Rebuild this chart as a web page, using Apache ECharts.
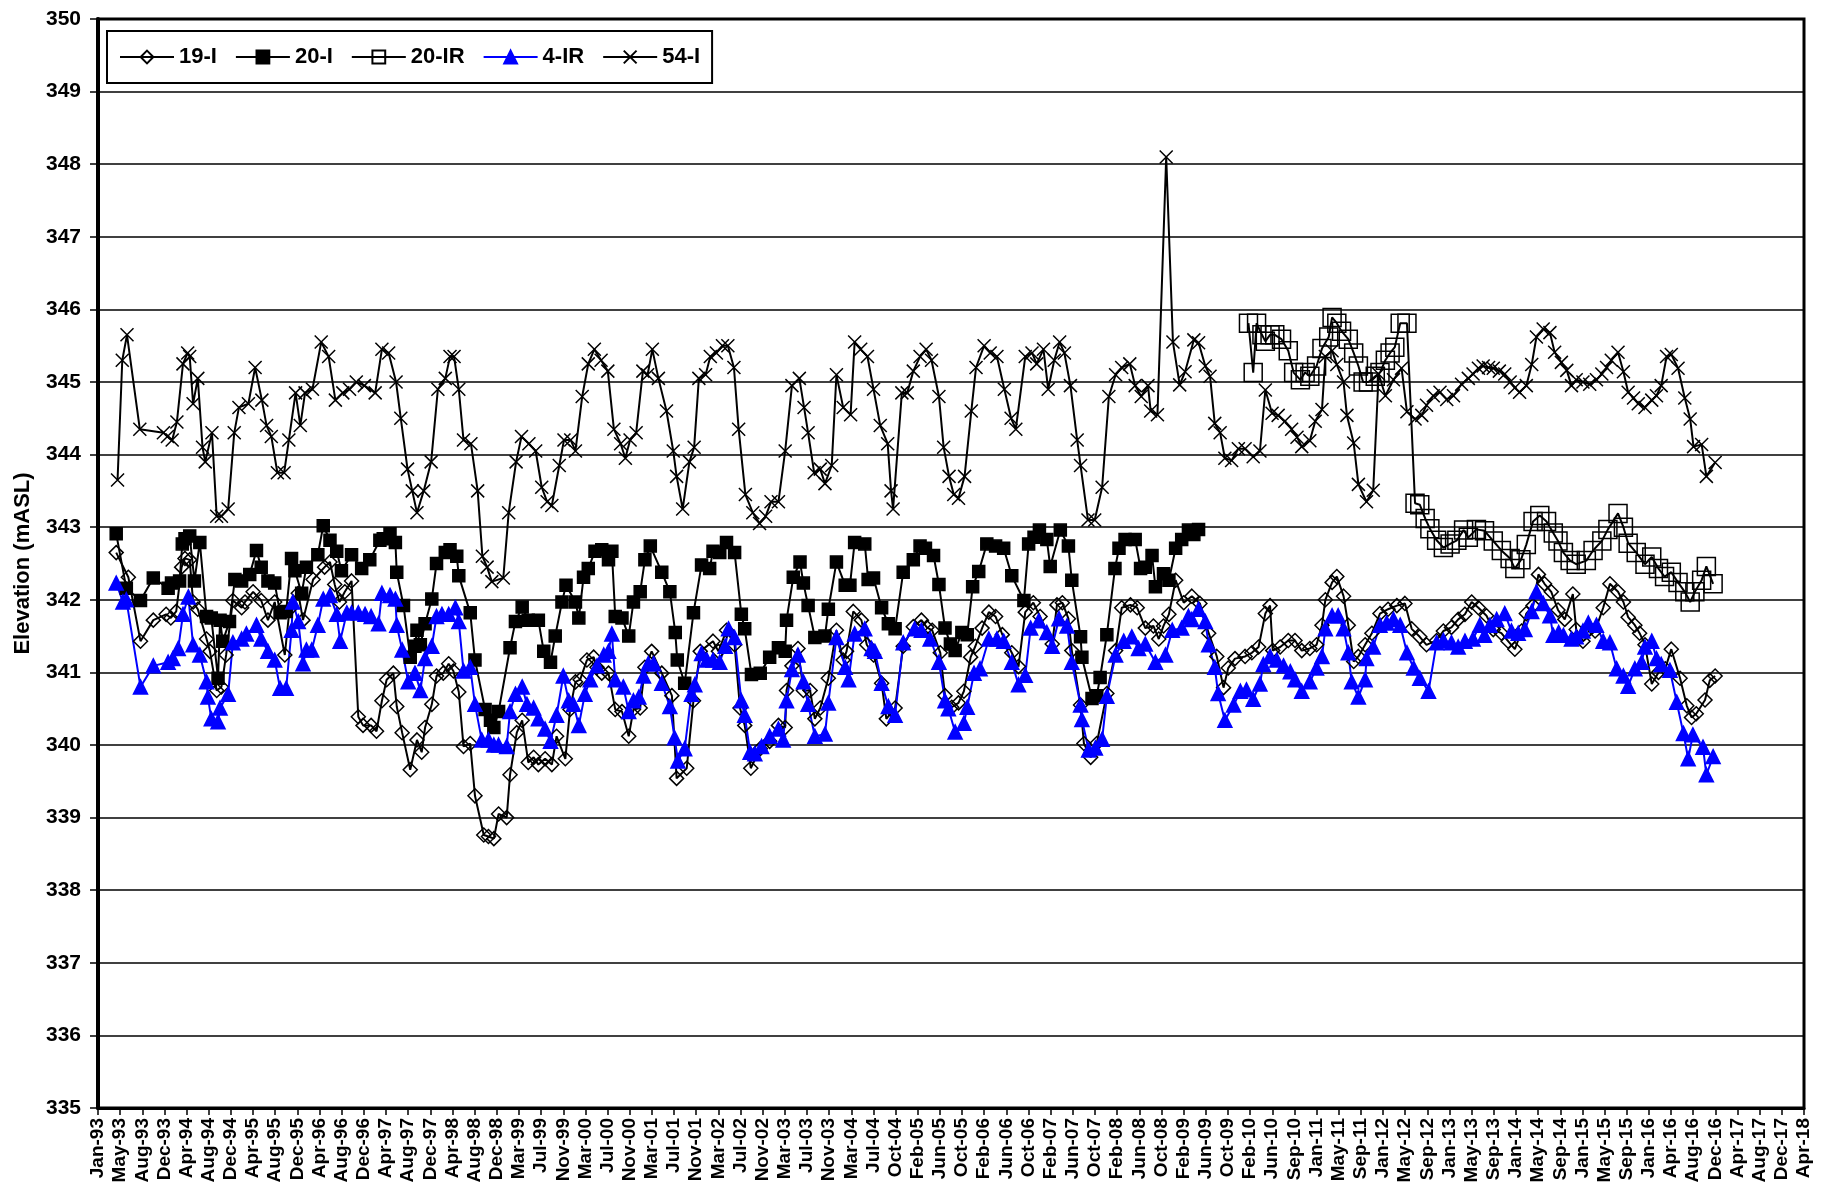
<!DOCTYPE html>
<html>
<head>
<meta charset="utf-8">
<title>Elevation</title>
<script src="https://cdn.jsdelivr.net/npm/echarts@6/dist/echarts.min.js"></script>
<style>
  html, body { margin: 0; padding: 0; background: #fff; }
  #chart { width: 1827px; height: 1201px; }
</style>
</head>
<body>
<div id="chart"></div>
<script>
// dates are decimal years, values are elevation in mASL
var well19I = [
  [1993.27,342.65],[1993.45,342.31],[1993.63,341.43],[1993.82,341.72],[1994.01,341.80],[1994.08,341.75],[1994.16,341.84],
  [1994.24,342.45],[1994.29,342.57],[1994.36,342.55],[1994.41,341.97],[1994.48,341.87],[1994.61,341.46],[1994.66,341.29],
  [1994.76,340.75],[1994.83,340.80],[1994.90,341.24],[1995.00,341.99],[1995.13,341.89],[1995.18,341.97],[1995.30,342.11],
  [1995.42,341.99],[1995.52,341.72],[1995.62,341.97],[1995.77,341.24],[1995.84,341.87],[1995.97,342.09],[1996.04,341.72],
  [1996.19,342.28],[1996.36,342.45],[1996.44,342.52],[1996.51,342.21],[1996.58,341.97],[1996.66,342.11],[1996.76,342.26],
  [1996.86,340.39],[1996.93,340.27],[1997.05,340.27],[1997.13,340.19],[1997.21,340.61],[1997.28,340.90],[1997.38,340.99],
  [1997.43,340.53],[1997.51,340.17],[1997.63,339.66],[1997.73,340.07],[1997.80,339.90],[1997.85,340.24],[1997.95,340.56],
  [1998.02,340.95],[1998.12,340.99],[1998.20,341.12],[1998.27,341.02],[1998.35,340.73],[1998.42,339.98],[1998.52,340.02],
  [1998.59,339.30],[1998.72,338.76],[1998.79,338.74],[1998.87,338.71],[1998.94,339.05],[1999.06,339.00],[1999.11,339.59],
  [1999.21,340.17],[1999.29,340.34],[1999.38,339.76],[1999.46,339.83],[1999.53,339.73],[1999.63,339.81],[1999.73,339.73],
  [1999.80,340.12],[1999.93,339.81],[2000.00,340.49],[2000.08,340.87],[2000.15,340.90],[2000.25,341.17],[2000.35,341.21],
  [2000.40,341.07],[2000.47,340.99],[2000.57,340.99],[2000.67,340.49],[2000.77,340.46],[2000.87,340.12],[2000.94,340.49],
  [2001.04,340.51],[2001.11,341.07],[2001.21,341.29],[2001.36,340.99],[2001.51,340.68],[2001.58,339.54],[2001.73,339.68],
  [2001.83,340.61],[2001.93,341.29],[2002.12,341.43],[2002.20,341.29],[2002.32,341.58],[2002.44,341.38],[2002.52,340.51],
  [2002.59,340.27],[2002.68,339.68],[2002.82,339.95],[2002.96,340.05],[2003.09,340.27],[2003.19,340.24],[2003.21,340.75],
  [2003.29,341.09],[2003.38,341.33],[2003.46,340.75],[2003.56,340.75],[2003.63,340.36],[2003.71,340.51],[2003.83,340.92],
  [2003.95,341.58],[2004.05,341.17],[2004.10,341.29],[2004.20,341.84],[2004.32,341.72],[2004.40,341.38],[2004.50,341.24],
  [2004.62,340.85],[2004.69,340.36],[2004.82,340.51],[2004.94,341.36],[2005.09,341.63],[2005.21,341.72],[2005.29,341.62],
  [2005.37,341.58],[2005.49,341.27],[2005.56,340.68],[2005.66,340.52],[2005.76,340.58],[2005.84,340.74],[2005.94,341.21],
  [2006.01,341.36],[2006.11,341.61],[2006.21,341.83],[2006.31,341.77],[2006.41,341.52],[2006.55,341.27],[2006.65,341.08],
  [2006.75,341.83],[2006.87,341.96],[2006.97,341.77],[2007.15,341.39],[2007.22,341.93],[2007.30,341.96],[2007.39,341.74],
  [2007.44,341.30],[2007.57,340.55],[2007.62,340.02],[2007.72,339.83],[2007.81,340.02],[2007.96,340.71],[2008.09,341.30],
  [2008.18,341.89],[2008.31,341.93],[2008.41,341.89],[2008.53,341.61],[2008.65,341.64],[2008.73,341.46],[2008.80,341.64],
  [2008.88,341.80],[2008.98,342.27],[2009.10,341.96],[2009.22,342.05],[2009.34,341.95],[2009.47,341.54],[2009.59,341.22],
  [2009.69,340.79],[2009.76,341.06],[2009.86,341.19],[2010.01,341.22],[2010.11,341.27],[2010.21,341.35],[2010.31,341.81],
  [2010.38,341.92],[2010.42,341.30],[2010.53,341.35],[2010.65,341.44],[2010.75,341.44],[2010.85,341.30],[2010.97,341.33],
  [2011.07,341.38],[2011.15,341.65],[2011.20,342.00],[2011.30,342.24],[2011.37,342.32],[2011.47,342.05],[2011.54,341.65],
  [2011.62,341.15],[2011.69,341.22],[2011.79,341.38],[2011.89,341.54],[2012.01,341.81],[2012.13,341.87],[2012.26,341.92],
  [2012.38,341.95],[2012.48,341.60],[2012.60,341.49],[2012.70,341.38],[2012.85,341.44],[2012.95,341.57],[2013.07,341.62],
  [2013.17,341.73],[2013.27,341.80],[2013.37,341.97],[2013.47,341.89],[2013.59,341.78],[2013.69,341.59],[2013.81,341.54],
  [2013.91,341.43],[2014.01,341.32],[2014.11,341.57],[2014.18,341.81],[2014.28,341.92],[2014.36,342.35],[2014.45,342.22],
  [2014.55,342.11],[2014.65,341.86],[2014.75,341.73],[2014.87,342.08],[2014.92,341.59],[2015.02,341.43],[2015.20,341.57],
  [2015.32,341.89],[2015.42,342.22],[2015.54,342.11],[2015.62,341.97],[2015.69,341.76],[2015.79,341.65],[2015.86,341.54],
  [2015.94,341.38],[2016.04,340.84],[2016.14,341.00],[2016.24,341.05],[2016.33,341.32],[2016.46,340.92],[2016.56,340.54],
  [2016.63,340.38],[2016.70,340.43],[2016.83,340.62],[2016.90,340.89],[2016.98,340.95]
];

var well20I = [
  [1993.27,342.91],[1993.42,342.16],[1993.63,341.99],[1993.82,342.30],[1994.04,342.16],[1994.09,342.23],[1994.21,342.26],
  [1994.25,342.77],[1994.29,342.84],[1994.36,342.88],[1994.43,342.26],[1994.51,342.79],[1994.61,341.77],[1994.68,341.75],
  [1994.78,340.92],[1994.81,341.72],[1994.85,341.43],[1994.95,341.70],[1995.03,342.28],[1995.13,342.26],[1995.25,342.35],
  [1995.35,342.68],[1995.42,342.45],[1995.52,342.26],[1995.62,342.23],[1995.70,341.82],[1995.79,341.84],[1995.87,342.57],
  [1995.92,342.40],[1996.02,342.09],[1996.09,342.45],[1996.26,342.62],[1996.34,343.02],[1996.44,342.82],[1996.54,342.67],
  [1996.61,342.40],[1996.76,342.62],[1996.91,342.43],[1997.03,342.55],[1997.18,342.82],[1997.23,342.84],[1997.33,342.91],
  [1997.41,342.79],[1997.43,342.38],[1997.53,341.92],[1997.63,341.21],[1997.70,341.36],[1997.73,341.58],[1997.78,341.38],
  [1997.85,341.67],[1997.95,342.01],[1998.02,342.50],[1998.15,342.65],[1998.22,342.69],[1998.32,342.60],[1998.35,342.33],
  [1998.52,341.82],[1998.59,341.17],[1998.74,340.49],[1998.82,340.34],[1998.87,340.24],[1998.94,340.46],[1999.11,341.34],
  [1999.19,341.70],[1999.29,341.90],[1999.38,341.72],[1999.53,341.72],[1999.61,341.29],[1999.71,341.14],[1999.78,341.50],
  [1999.88,341.97],[1999.94,342.20],[2000.08,341.97],[2000.13,341.75],[2000.20,342.31],[2000.27,342.43],[2000.37,342.67],
  [2000.47,342.69],[2000.57,342.55],[2000.62,342.67],[2000.67,341.77],[2000.77,341.75],[2000.87,341.50],[2000.94,341.97],
  [2001.04,342.11],[2001.11,342.55],[2001.19,342.74],[2001.36,342.38],[2001.48,342.11],[2001.56,341.55],[2001.59,341.17],
  [2001.70,340.85],[2001.83,341.82],[2001.95,342.48],[2002.07,342.43],[2002.12,342.67],[2002.22,342.65],[2002.32,342.79],
  [2002.44,342.65],[2002.54,341.80],[2002.59,341.60],[2002.69,340.97],[2002.82,340.99],[2002.96,341.21],[2003.09,341.34],
  [2003.19,341.29],[2003.21,341.72],[2003.31,342.31],[2003.41,342.52],[2003.46,342.23],[2003.53,341.92],[2003.63,341.48],
  [2003.78,341.50],[2003.83,341.87],[2003.95,342.52],[2004.08,342.20],[2004.15,342.20],[2004.22,342.79],[2004.37,342.77],
  [2004.42,342.28],[2004.50,342.30],[2004.62,341.89],[2004.72,341.67],[2004.82,341.60],[2004.94,342.38],[2005.09,342.55],
  [2005.19,342.74],[2005.27,342.71],[2005.39,342.61],[2005.47,342.21],[2005.56,341.61],[2005.64,341.39],[2005.71,341.30],
  [2005.81,341.55],[2005.89,341.52],[2005.97,342.18],[2006.06,342.39],[2006.18,342.77],[2006.31,342.74],[2006.43,342.71],
  [2006.55,342.33],[2006.73,341.99],[2006.80,342.77],[2006.88,342.86],[2006.96,342.96],[2007.07,342.83],[2007.12,342.46],
  [2007.27,342.96],[2007.39,342.74],[2007.44,342.27],[2007.57,341.49],[2007.59,341.21],[2007.74,340.64],[2007.81,340.68],
  [2007.86,340.93],[2007.96,341.52],[2008.08,342.43],[2008.14,342.71],[2008.23,342.83],[2008.38,342.83],[2008.46,342.43],
  [2008.53,342.45],[2008.63,342.61],[2008.68,342.18],[2008.80,342.36],[2008.88,342.27],[2008.98,342.71],[2009.07,342.83],
  [2009.17,342.96],[2009.25,342.90],[2009.32,342.97]
];

var well20IR = [
  [2010.06,345.81],[2010.13,345.13],[2010.18,345.81],[2010.26,345.65],[2010.31,345.56],[2010.38,345.65],[2010.45,345.65],
  [2010.55,345.59],[2010.65,345.43],[2010.73,345.13],[2010.83,345.03],[2010.90,345.13],[2010.97,345.08],[2011.07,345.22],
  [2011.15,345.46],[2011.25,345.62],[2011.30,345.89],[2011.37,345.81],[2011.44,345.70],[2011.54,345.59],[2011.62,345.40],
  [2011.69,345.22],[2011.76,345.00],[2011.84,345.00],[2011.94,345.08],[2012.01,345.13],[2012.09,345.30],[2012.16,345.40],
  [2012.23,345.48],[2012.31,345.81],[2012.41,345.81],[2012.53,343.33],[2012.60,343.31],[2012.68,343.12],[2012.75,342.98],
  [2012.85,342.82],[2012.95,342.72],[2013.05,342.77],[2013.15,342.82],[2013.25,342.96],[2013.32,342.86],[2013.44,342.97],
  [2013.56,342.95],[2013.69,342.81],[2013.81,342.68],[2013.94,342.57],[2014.01,342.43],[2014.10,342.55],[2014.18,342.76],
  [2014.28,343.08],[2014.38,343.16],[2014.48,343.08],[2014.58,342.92],[2014.65,342.81],[2014.73,342.65],[2014.83,342.54],
  [2014.92,342.49],[2015.07,342.54],[2015.17,342.68],[2015.30,342.81],[2015.39,342.97],[2015.54,343.19],[2015.62,343.00],
  [2015.69,342.78],[2015.81,342.65],[2015.94,342.49],[2016.04,342.59],[2016.14,342.43],[2016.23,342.32],[2016.33,342.38],
  [2016.43,342.24],[2016.53,342.11],[2016.61,341.97],[2016.68,342.11],[2016.78,342.27],[2016.85,342.46],[2016.95,342.22]
];

var well4IR = [
  [1993.27,342.23],[1993.37,341.97],[1993.42,342.00],[1993.63,340.80],[1993.82,341.09],[1994.04,341.14],[1994.11,341.19],
  [1994.19,341.33],[1994.26,341.80],[1994.34,342.04],[1994.41,341.38],[1994.51,341.24],[1994.61,340.87],[1994.63,340.66],
  [1994.68,340.36],[1994.78,340.32],[1994.81,340.51],[1994.93,340.70],[1995.00,341.41],[1995.13,341.46],[1995.20,341.53],
  [1995.35,341.65],[1995.42,341.46],[1995.52,341.29],[1995.62,341.17],[1995.70,340.78],[1995.79,340.78],[1995.87,341.58],
  [1995.89,341.97],[1995.97,341.70],[1996.04,341.12],[1996.09,341.31],[1996.17,341.31],[1996.26,341.65],[1996.34,342.01],
  [1996.44,342.06],[1996.54,341.80],[1996.59,341.43],[1996.69,341.82],[1996.76,341.82],[1996.86,341.82],[1996.96,341.80],
  [1997.05,341.77],[1997.16,341.67],[1997.21,342.09],[1997.33,342.06],[1997.41,342.01],[1997.43,341.65],[1997.51,341.31],
  [1997.60,340.87],[1997.70,340.99],[1997.78,340.75],[1997.85,341.19],[1997.95,341.36],[1998.02,341.77],[1998.10,341.80],
  [1998.20,341.80],[1998.30,341.89],[1998.35,341.70],[1998.42,341.02],[1998.52,341.07],[1998.59,340.56],[1998.69,340.07],
  [1998.79,340.07],[1998.87,340.00],[1998.94,340.00],[1999.06,339.98],[1999.11,340.46],[1999.19,340.70],[1999.29,340.80],
  [1999.36,340.56],[1999.46,340.51],[1999.53,340.36],[1999.63,340.22],[1999.71,340.05],[1999.80,340.41],[1999.90,340.95],
  [1999.98,340.61],[2000.05,340.56],[2000.13,340.27],[2000.22,340.70],[2000.30,340.90],[2000.40,341.09],[2000.50,341.24],
  [2000.57,341.29],[2000.62,341.53],[2000.67,340.90],[2000.79,340.80],[2000.87,340.46],[2000.94,340.61],[2001.02,340.66],
  [2001.09,340.95],[2001.16,341.12],[2001.24,341.12],[2001.36,340.85],[2001.48,340.53],[2001.55,340.10],[2001.60,339.78],
  [2001.70,339.95],[2001.80,340.70],[2001.85,340.83],[2001.95,341.26],[2002.03,341.17],[2002.12,341.17],[2002.22,341.14],
  [2002.30,341.36],[2002.35,341.60],[2002.44,341.48],[2002.54,340.61],[2002.59,340.41],[2002.67,339.90],[2002.74,339.88],
  [2002.84,339.98],[2002.96,340.12],[2003.09,340.22],[2003.16,340.07],[2003.21,340.61],[2003.29,341.04],[2003.38,341.24],
  [2003.46,340.87],[2003.53,340.56],[2003.63,340.12],[2003.78,340.15],[2003.83,340.58],[2003.95,341.48],[2004.08,341.07],
  [2004.13,340.90],[2004.22,341.53],[2004.37,341.60],[2004.47,341.33],[2004.52,341.29],[2004.62,340.85],[2004.72,340.53],
  [2004.82,340.41],[2004.94,341.41],[2005.11,341.60],[2005.21,341.58],[2005.34,341.46],[2005.47,341.14],[2005.56,340.61],
  [2005.61,340.50],[2005.71,340.18],[2005.84,340.30],[2005.89,340.52],[2005.99,340.99],[2006.08,341.05],[2006.21,341.46],
  [2006.33,341.46],[2006.43,341.43],[2006.55,341.14],[2006.65,340.83],[2006.75,340.96],[2006.83,341.61],[2006.95,341.71],
  [2007.07,341.55],[2007.15,341.36],[2007.25,341.74],[2007.37,341.64],[2007.44,341.14],[2007.57,340.55],[2007.59,340.35],
  [2007.69,339.93],[2007.79,339.96],[2007.89,340.08],[2007.96,340.67],[2008.09,341.24],[2008.21,341.43],[2008.33,341.49],
  [2008.43,341.33],[2008.53,341.39],[2008.68,341.14],[2008.83,341.24],[2008.93,341.58],[2009.07,341.61],[2009.17,341.77],
  [2009.22,341.73],[2009.32,341.87],[2009.42,341.70],[2009.47,341.38],[2009.56,341.07],[2009.61,340.71],[2009.71,340.34],
  [2009.84,340.55],[2009.94,340.74],[2010.03,340.76],[2010.13,340.63],[2010.23,340.84],[2010.28,341.11],[2010.38,341.22],
  [2010.48,341.17],[2010.58,341.09],[2010.68,341.01],[2010.75,340.90],[2010.85,340.74],[2010.97,340.87],[2011.07,341.06],
  [2011.15,341.22],[2011.20,341.60],[2011.30,341.78],[2011.39,341.78],[2011.47,341.60],[2011.54,341.27],[2011.59,340.87],
  [2011.69,340.66],[2011.79,340.90],[2011.81,341.19],[2011.91,341.35],[2012.01,341.65],[2012.11,341.68],[2012.21,341.73],
  [2012.31,341.65],[2012.41,341.27],[2012.51,341.06],[2012.60,340.92],[2012.73,340.74],[2012.85,341.41],[2012.95,341.44],
  [2013.07,341.41],[2013.17,341.35],[2013.27,341.43],[2013.39,341.46],[2013.49,341.65],[2013.56,341.51],[2013.64,341.65],
  [2013.74,341.73],[2013.86,341.81],[2013.96,341.57],[2014.06,341.54],[2014.16,341.59],[2014.26,341.84],[2014.33,342.11],
  [2014.43,341.95],[2014.53,341.78],[2014.58,341.51],[2014.66,341.55],[2014.73,341.51],[2014.85,341.46],[2014.92,341.49],
  [2015.02,341.57],[2015.10,341.68],[2015.22,341.65],[2015.32,341.43],[2015.42,341.41],[2015.52,341.05],[2015.62,340.95],
  [2015.69,340.81],[2015.79,341.05],[2015.89,341.14],[2015.94,341.35],[2016.04,341.43],[2016.11,341.19],[2016.18,341.11],
  [2016.31,341.03],[2016.41,340.59],[2016.51,340.16],[2016.58,339.81],[2016.65,340.14],[2016.80,339.97],[2016.85,339.59],
  [2016.95,339.84]
];

var well54I = [
  [1993.29,343.65],[1993.36,345.30],[1993.43,345.65],[1993.62,344.35],[1993.97,344.30],[1994.03,344.25],[1994.10,344.20],
  [1994.17,344.45],[1994.26,345.25],[1994.33,345.40],[1994.36,345.35],[1994.41,344.70],[1994.48,345.05],[1994.55,344.10],
  [1994.59,343.90],[1994.69,344.30],[1994.76,343.15],[1994.83,343.15],[1994.93,343.25],[1995.02,344.30],[1995.09,344.65],
  [1995.23,344.70],[1995.33,345.20],[1995.43,344.75],[1995.50,344.40],[1995.57,344.25],[1995.66,343.75],[1995.76,343.75],
  [1995.83,344.20],[1995.93,344.85],[1996.00,344.40],[1996.07,344.85],[1996.18,344.90],[1996.31,345.55],[1996.42,345.35],
  [1996.52,344.75],[1996.63,344.85],[1996.73,344.90],[1996.83,345.00],[1996.95,344.95],[1997.11,344.85],[1997.21,345.45],
  [1997.31,345.40],[1997.42,345.00],[1997.49,344.50],[1997.59,343.80],[1997.66,343.50],[1997.73,343.20],[1997.83,343.50],
  [1997.94,343.90],[1998.04,344.90],[1998.15,345.05],[1998.22,345.35],[1998.28,345.35],[1998.35,344.90],[1998.42,344.20],
  [1998.53,344.15],[1998.63,343.50],[1998.70,342.60],[1998.77,342.45],[1998.84,342.25],[1999.01,342.30],[1999.09,343.20],
  [1999.20,343.90],[1999.28,344.25],[1999.39,344.15],[1999.49,344.05],[1999.58,343.55],[1999.66,343.35],[1999.73,343.30],
  [1999.84,343.85],[1999.91,344.20],[2000.01,344.20],[2000.08,344.05],[2000.18,344.80],[2000.27,345.25],[2000.36,345.45],
  [2000.46,345.30],[2000.56,345.15],[2000.65,344.35],[2000.75,344.15],[2000.82,343.95],[2000.89,344.20],[2000.98,344.30],
  [2001.08,345.15],[2001.15,345.10],[2001.22,345.45],[2001.31,345.05],[2001.43,344.60],[2001.53,344.05],[2001.58,343.70],
  [2001.67,343.25],[2001.77,343.90],[2001.84,344.10],[2001.91,345.05],[2002.01,345.10],[2002.08,345.35],[2002.17,345.40],
  [2002.26,345.50],[2002.34,345.50],[2002.43,345.20],[2002.50,344.35],[2002.60,343.45],[2002.71,343.20],[2002.81,343.05],
  [2002.90,343.15],[2002.98,343.35],[2003.09,343.35],[2003.19,344.05],[2003.29,344.95],[2003.40,345.05],[2003.47,344.65],
  [2003.53,344.30],[2003.62,343.75],[2003.71,343.80],[2003.78,343.60],[2003.88,343.85],[2003.95,345.10],[2004.05,344.65],
  [2004.16,344.55],[2004.22,345.55],[2004.31,345.45],[2004.41,345.35],[2004.50,344.90],[2004.60,344.40],[2004.71,344.15],
  [2004.76,343.50],[2004.79,343.25],[2004.92,344.85],[2005.00,344.85],[2005.09,345.15],[2005.19,345.35],[2005.28,345.45],
  [2005.36,345.30],[2005.47,344.80],[2005.54,344.10],[2005.62,343.70],[2005.69,343.45],[2005.76,343.40],[2005.85,343.70],
  [2005.95,344.60],[2006.02,345.20],[2006.14,345.50],[2006.23,345.40],[2006.33,345.35],[2006.44,344.90],[2006.54,344.50],
  [2006.61,344.35],[2006.75,345.35],[2006.85,345.40],[2006.92,345.25],[2007.02,345.45],[2007.09,344.90],[2007.18,345.30],
  [2007.26,345.55],[2007.33,345.40],[2007.42,344.95],[2007.52,344.20],[2007.57,343.85],[2007.68,343.10],[2007.78,343.10],
  [2007.89,343.55],[2007.99,344.80],[2008.09,345.10],[2008.18,345.20],[2008.30,345.25],[2008.38,344.95],[2008.47,344.80],
  [2008.57,344.95],[2008.61,344.60],[2008.71,344.55],[2008.84,348.10],[2008.94,345.55],[2009.04,344.96],[2009.12,345.14],
  [2009.25,345.58],[2009.32,345.54],[2009.42,345.22],[2009.49,345.08],[2009.56,344.43],[2009.64,344.30],[2009.71,343.95],
  [2009.81,343.92],[2009.91,344.08],[2010.01,344.08],[2010.13,343.97],[2010.23,344.05],[2010.31,344.89],[2010.41,344.57],
  [2010.50,344.54],[2010.60,344.46],[2010.70,344.35],[2010.78,344.24],[2010.85,344.11],[2010.97,344.19],[2011.05,344.46],
  [2011.15,344.62],[2011.20,345.35],[2011.30,345.43],[2011.37,345.24],[2011.47,345.00],[2011.52,344.54],[2011.62,344.16],
  [2011.69,343.59],[2011.81,343.35],[2011.91,343.51],[2011.99,345.11],[2012.09,344.81],[2012.21,345.03],[2012.33,345.19],
  [2012.41,344.59],[2012.53,344.49],[2012.63,344.54],[2012.70,344.68],[2012.80,344.81],[2012.90,344.86],[2013.00,344.76],
  [2013.10,344.81],[2013.22,344.97],[2013.32,345.05],[2013.39,345.11],[2013.47,345.19],[2013.54,345.22],[2013.62,345.20],
  [2013.69,345.19],[2013.78,345.15],[2013.86,345.11],[2013.94,345.00],[2014.01,344.92],[2014.08,344.86],[2014.18,344.95],
  [2014.26,345.24],[2014.33,345.62],[2014.43,345.73],[2014.53,345.68],[2014.60,345.41],[2014.70,345.27],[2014.78,345.16],
  [2014.85,344.95],[2014.92,345.03],[2015.02,345.00],[2015.12,344.97],[2015.22,345.03],[2015.30,345.11],[2015.37,345.20],
  [2015.44,345.30],[2015.54,345.41],[2015.62,345.14],[2015.69,344.86],[2015.77,344.78],[2015.84,344.70],[2015.94,344.65],
  [2016.04,344.75],[2016.11,344.81],[2016.18,344.95],[2016.26,345.35],[2016.33,345.38],[2016.43,345.19],[2016.53,344.78],
  [2016.61,344.49],[2016.66,344.11],[2016.78,344.14],[2016.85,343.70],[2016.98,343.89]
];

var monthNames = ['Jan','Feb','Mar','Apr','May','Jun','Jul','Aug','Sep','Oct','Nov','Dec'];
var DAY = 86400000;
var START = Date.UTC(1993, 0, 1);
var STEP_DAYS = 120;   // excel major unit
var N_STEPS = 77;      // Jan-93 .. Apr-18

function toTime(pairs) {
  return pairs.map(function (p) {
    return [START + (p[0] - 1993) * 365.25 * DAY, p[1]];
  });
}

var FONT = 'Liberation Sans, Arial, sans-serif';
var CROSS = 'path://M0,0L10,10M0,10L10,0';

function makeSeries(name, data, symbol, size, fill, color) {
  return {
    name: name,
    type: 'line',
    data: toTime(data),
    symbol: symbol,
    symbolSize: size,
    showAllSymbol: true,
    lineStyle: { color: color, width: 2 },
    itemStyle: { color: fill, borderColor: color, borderWidth: 1.5 },
    emphasis: { disabled: true }
  };
}

var chart = echarts.init(document.getElementById('chart'));
chart.setOption({
  animation: false,
  backgroundColor: '#fff',
  grid: {
    left: 98, right: 23, top: 19, bottom: 93,
    show: true, borderColor: '#000', borderWidth: 3
  },
  legend: {
    left: 107, top: 31,
    padding: [15, 12, 15, 12],
    itemWidth: 54, itemHeight: 16, itemGap: 18,
    borderColor: '#000', borderWidth: 2,
    backgroundColor: '#fff',
    textStyle: { fontFamily: FONT, fontWeight: 'bold', fontSize: 22, color: '#000' },
    data: ['19-I', '20-I', '20-IR', '4-IR', '54-I']
  },
  xAxis: {
    type: 'value',
    min: START,
    max: START + N_STEPS * STEP_DAYS * DAY,
    interval: STEP_DAYS * DAY,
    axisLine: { show: true, lineStyle: { color: '#000', width: 3 } },
    axisTick: { show: true, length: 7, lineStyle: { color: '#000', width: 1.5 } },
    splitLine: { show: false },
    axisLabel: {
      rotate: 90, margin: 10,
      fontFamily: FONT, fontWeight: 'bold', fontSize: 19, color: '#000',
      showMinLabel: true, showMaxLabel: true,
      formatter: function (v) {
        var d = new Date(v);
        return monthNames[d.getUTCMonth()] + '-' + String(d.getUTCFullYear()).slice(2);
      }
    }
  },
  yAxis: {
    type: 'value',
    min: 335, max: 350, interval: 1,
    name: 'Elevation (mASL)',
    nameLocation: 'middle',
    nameGap: 64,
    nameTextStyle: { fontFamily: FONT, fontWeight: 'bold', fontSize: 22, color: '#000' },
    axisLine: { show: true, lineStyle: { color: '#000', width: 4 } },
    axisTick: { show: true, length: 8, lineStyle: { color: '#000', width: 1.5 } },
    splitLine: { show: true, lineStyle: { color: '#000', width: 1.5 } },
    axisLabel: { margin: 17, fontFamily: FONT, fontWeight: 'bold', fontSize: 21, color: '#000' }
  },
  series: [
    makeSeries('19-I', well19I, 'diamond', 14, 'rgba(0,0,0,0)', '#000'),
    makeSeries('20-I', well20I, 'rect', 12, '#000', '#000'),
    makeSeries('20-IR', well20IR, 'rect', 18, 'rgba(0,0,0,0)', '#000'),
    makeSeries('4-IR', well4IR, 'triangle', 14, '#0000ff', '#0000ff'),
    makeSeries('54-I', well54I, CROSS, 13, 'rgba(0,0,0,0)', '#000')
  ]
});
</script>
</body>
</html>
